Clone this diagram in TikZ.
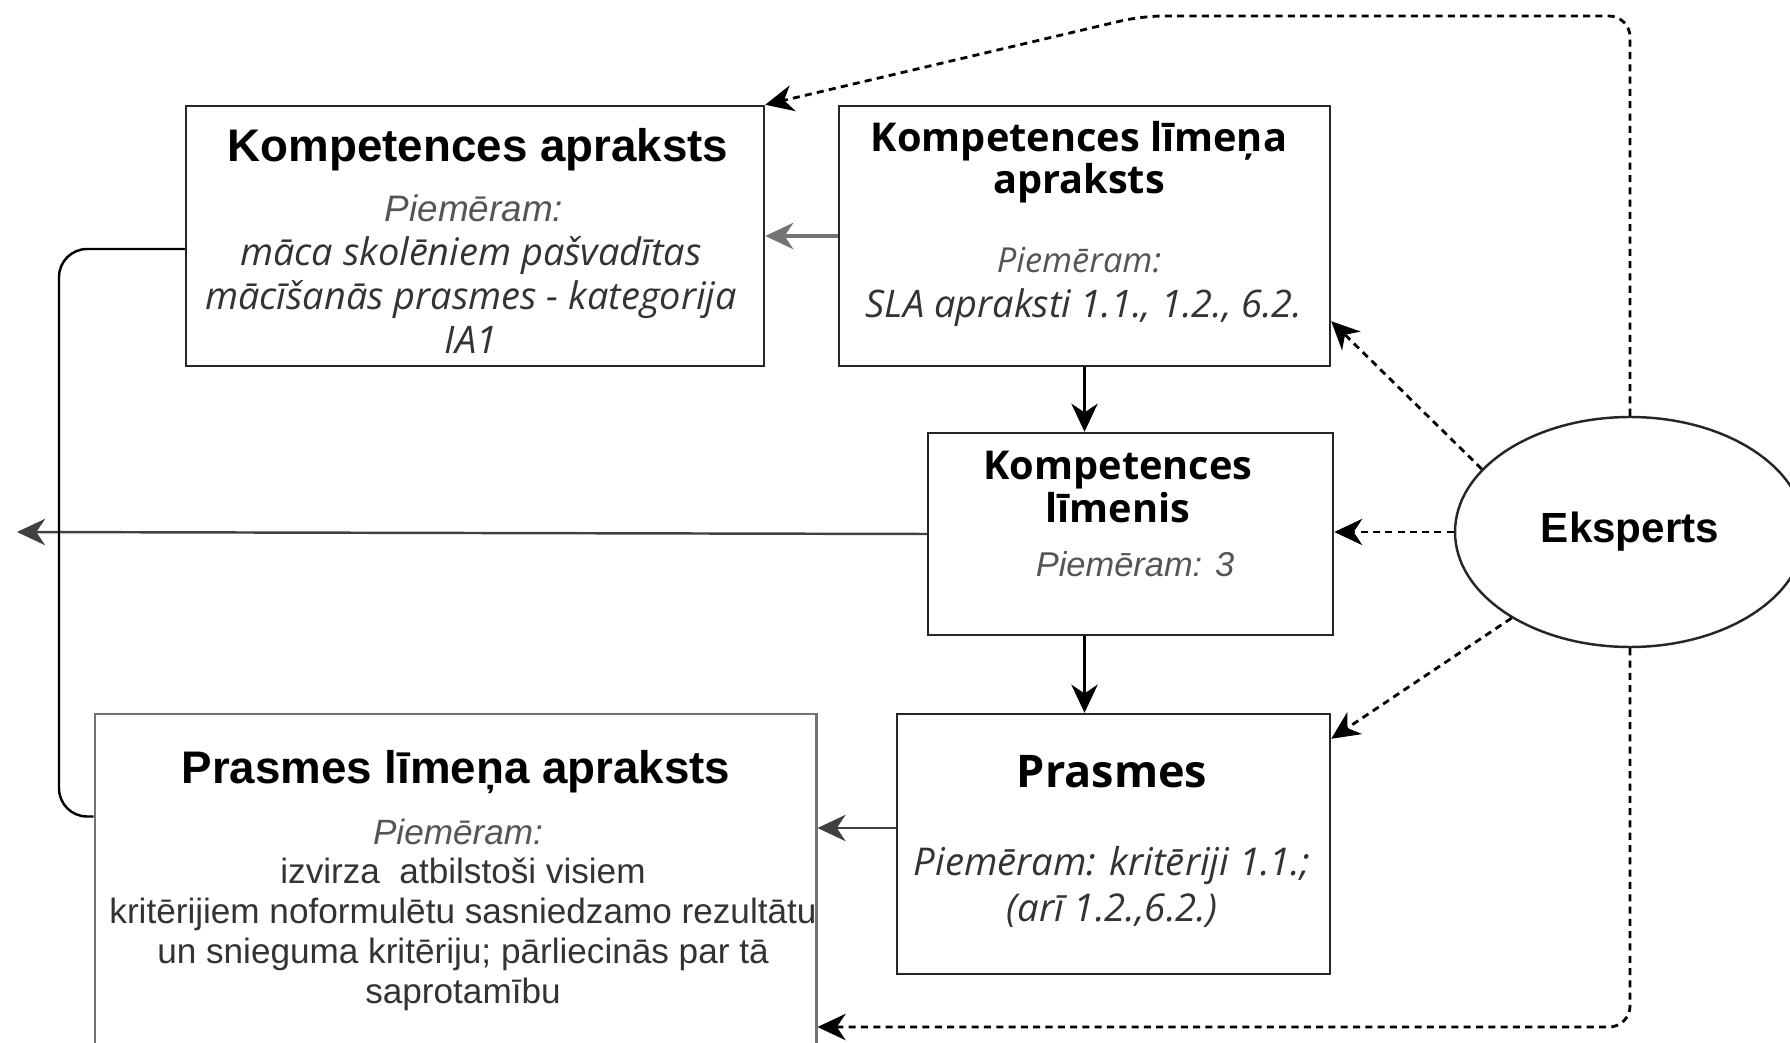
\documentclass[tikz,border=0pt]{standalone}
\usepackage{fontspec}
\setmainfont{Liberation Sans}
\newfontfamily\segoe{Open Sans}
\usetikzlibrary{shapes.geometric,arrows.meta}
\definecolor{txtgray}{HTML}{555555}
\definecolor{bodygray}{HTML}{333333}

\begin{document}
\begin{tikzpicture}[cbox/.style={draw=black!85,line width=0.7pt,inner sep=0pt}, bigtitle/.style={font=\bfseries\fontsize{13}{15}\selectfont}, segtitle/.style={font=\segoe\bfseries\fontsize{11.3}{12}\selectfont,align=center}, egtext/.style={font=\itshape\fontsize{10.5}{12}\selectfont,text=txtgray}, segtext/.style={font=\segoe\itshape\fontsize{10.8}{12.5}\selectfont,text=bodygray,align=center}, bodytext/.style={font=\fontsize{10}{11.4}\selectfont,text=bodygray,align=center}, link/.style={-{Stealth[length=8pt,width=7.5pt,inset=2.5pt]},line width=0.7pt}, guess/.style={link,line width=0.8pt,dash pattern=on 2pt off 1.5pt}]

\useasboundingbox (0,0) rectangle (17.9,-10.43);
\clip (0,0) rectangle (17.9,-10.43);

% boxes
\node[cbox,minimum width=5.78cm,minimum height=2.6cm] (ka) at (4.75,-2.36) {};
\node[cbox,minimum width=4.91cm,minimum height=2.6cm] (kla) at (10.845,-2.36) {};
\node[cbox,minimum width=4.05cm,minimum height=2.02cm] (kl) at (11.305,-5.34) {};
\node[cbox,minimum width=4.33cm,minimum height=2.6cm] (pr) at (11.135,-8.44) {};
\node[cbox,draw=black!55,line width=0.85pt,minimum width=7.21cm,minimum height=3.38cm] (pla) at (4.555,-8.83) {};
\node[cbox,ellipse,minimum width=3.5cm,minimum height=2.3cm] (ee) at (16.30,-5.32) {};

% texts
\node[bigtitle] (ka-t) at (4.78,-1.50) {Kompetences apraksts};
\node[egtext] (ka-p) at (4.74,-2.08) {Piemēram:};
\node[segtext] (ka-b) at (4.71,-2.95) {māca skolēniem pašvadītas\\mācīšanās prasmes - kategorija\\IA1};

\node[segtitle] (kla-t) at (10.79,-1.625) {Kompetences līmeņa\\apraksts};
\node[segtext,font=\segoe\itshape\fontsize{9.8}{12}\selectfont,text=txtgray] (kla-p) at (10.79,-2.60) {Piemēram:};
\node[segtext] (kla-b) at (10.84,-3.08) {SLA apraksti 1.1., 1.2., 6.2.};

\node[segtitle,font=\segoe\bfseries\fontsize{11.3}{12.5}\selectfont] (kl-t) at (11.18,-4.87) {Kompetences\\līmenis};
\node[egtext,font=\itshape\fontsize{9.8}{12}\selectfont] (kl-p) at (11.35,-5.64) {Piemēram: 3};

\node[segtitle,font=\segoe\bfseries\fontsize{12.8}{15}\selectfont] (pr-t) at (11.12,-7.72) {Prasmes};
\node[segtext,font=\segoe\itshape\fontsize{10.9}{13}\selectfont] (pr-b) at (11.12,-8.87) {Piemēram: kritēriji 1.1.;\\(arī 1.2.,6.2.)};

\node[bigtitle] (pla-t) at (4.56,-7.72) {Prasmes līmeņa apraksts};
\node[egtext,font=\itshape\fontsize{10}{12}\selectfont] (pla-p) at (4.58,-8.32) {Piemēram:};
\node[bodytext] (pla-b) at (4.63,-9.34) {izvirza\ \ atbilstoši visiem\\kritērijiem noformulētu sasniedzamo rezultātu\\un snieguma kritēriju; pārliecinās par tā\\saprotamību};

\node[font=\bfseries\fontsize{12}{14}\selectfont] (ee-t) at (ee) {Eksperts};

% helper points
\coordinate (lft) at (0.17,-5.32);
\coordinate (bend) at (0.59,-2.49);
\coordinate (topr) at (16.30,-0.16);
\coordinate (topm) at (11.42,-0.16);
\coordinate (botr) at (16.30,-10.27);

% connectors
\draw[link,draw=black!55,line width=1.1pt] (kla.west) -- (ka.east);
\draw[link] (kla.south) -- (kla.south |- kl.north);
\draw[link] (kla.south |- kl.south) -- (kla.south |- pr.north);
\draw[link,draw=black!75] (kl.west) -- (lft);
\draw[link,draw=black!75] ([yshift=1.6mm]pr.west) -- ([yshift=1.6mm]pr.west -| pla.east);
\draw[line width=0.7pt,rounded corners=8pt] ([yshift=-1.3mm]ka.west) -- (bend) |- ([yshift=-10.4mm]pla.north west);

\draw[guess] (ee.west) -- (ee.west -| kl.east);
\draw[guess] (ee.157) -- ([yshift=4.6mm]kla.south east);
\draw[guess] (ee.216) -- ([yshift=-2.6mm]pr.north east);
\draw[guess,rounded corners=6pt] (ee.north) -- (topr) -- (topm) -- (ka.north east);
\draw[guess,rounded corners=6pt] (ee.south) -- (botr) -- (botr -| pla.east);

\end{tikzpicture}
\end{document}
